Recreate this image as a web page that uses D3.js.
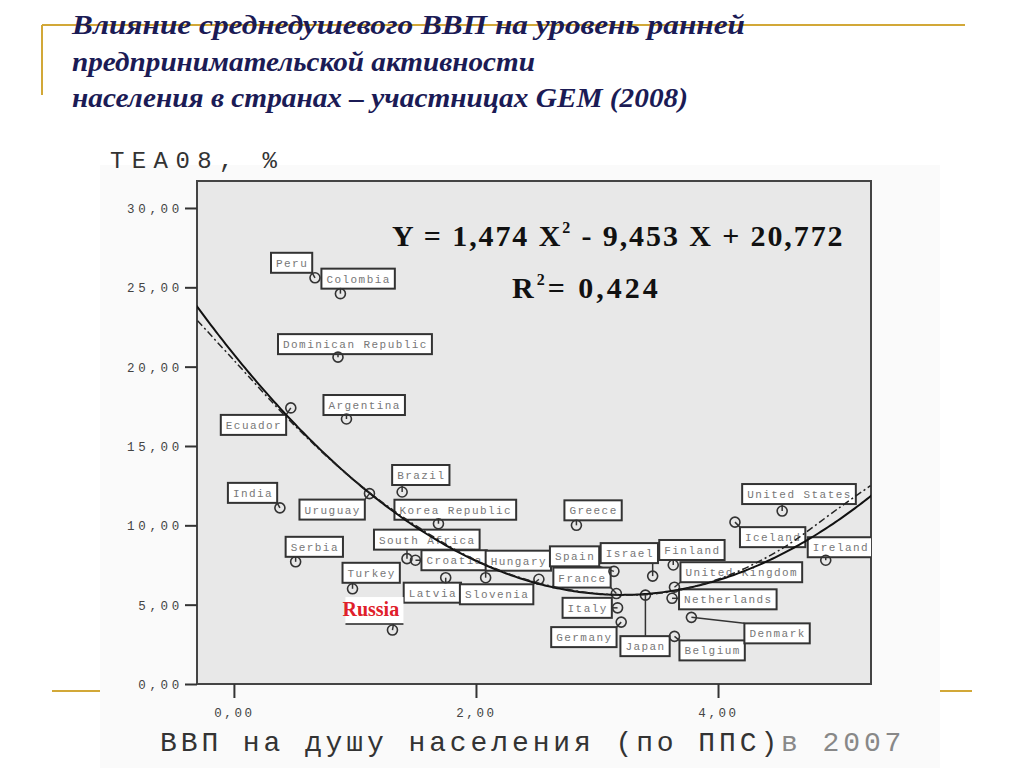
<!DOCTYPE html>
<html><head><meta charset="utf-8">
<script src="https://cdn.jsdelivr.net/npm/d3@7"></script>
<style>body{margin:0;background:#fff}svg{display:block}</style>
</head><body>
<svg id="c" width="1024" height="768"></svg>
<script>
// ---- data ----
const titleLines = ["Влияние среднедушевого ВВП на уровень ранней","предпринимательской активности","населения в странах – участницах GEM (2008)"];
const countries = ["Peru","Colombia","Dominican Republic","Ecuador","Argentina","India","Uruguay","Brazil","Korea Republic","South Africa","Croatia","Hungary","Latvia","Slovenia","Serbia","Turkey","Russia","Greece","Spain","Israel","Finland","United States","Iceland","Ireland","France","United Kingdom","Netherlands","Japan","Italy","Germany","Belgium","Denmark"];
const gdp = [0.67,0.88,0.86,0.47,0.93,0.38,1.12,1.39,1.69,1.43,1.50,2.08,1.75,2.52,0.51,0.98,1.31,2.83,3.14,3.46,3.63,4.53,4.14,4.89,3.16,3.64,3.62,3.40,3.17,3.20,3.64,3.78];
const tea = [25.6,24.6,20.6,17.4,16.7,11.1,12.0,12.1,10.1,7.9,7.8,6.7,6.7,6.6,7.7,6.0,3.4,10.0,7.1,6.8,7.5,10.9,10.2,7.8,5.7,6.1,5.4,5.6,4.8,3.9,3.0,4.2];
const quadCoef = [1.474, -9.453, 20.772]; // Y = a X^2 + b X + c (from the chart)
const altFitX = [-0.3,0,0.5,1,1.5,2,2.5,3,3.5,4,4.5,5,5.26];
const altFitY = [22.9,20.4,16.3,12.8,10.0,7.8,6.4,5.7,5.7,6.6,8.4,11.1,12.5];
const yTicks = [0,5,10,15,20,25,30];
const xTicks = [0,2,4];

// ---- layout ----
const titleWidths = [673, 463, 616];
const labelOffsets = {"Peru":[-44,-25],"Colombia":[-19,-25],"Dominican Republic":[-60,-23],"Ecuador":[-70,7],"Argentina":[-23,-24],"India":[-52,-25],"Uruguay":[-70,6],"Brazil":[-10,-27],"Korea Republic":[-44,-24],"South Africa":[-33,-29],"Croatia":[6,-10],"Hungary":[0,-27],"Latvia":[-42,5],"Slovenia":[-79,5],"Serbia":[-10,-25],"Turkey":[-10,-26],"Russia":[-47,-33],"Greece":[-12,-25],"Spain":[-64,-25],"Israel":[-52,-33],"Finland":[-14,-25],"United States":[-40,-27],"Iceland":[5,5],"Ireland":[-18,-23],"France":[-63,-26],"United Kingdom":[6,-25],"Netherlands":[7,-9],"Japan":[-25,41],"Italy":[-55,-10],"Germany":[-70,5],"Belgium":[5,4],"Denmark":[53,6]};

const svg = d3.select("#c");
const fmt = v => d3.format(".2f")(v).replace(".", ",");
const L = 197, R = 871, T = 181, B = 684;
const x = d3.scaleLinear().domain([-0.305, 5.264]).range([L, R]);
const y = d3.scaleLinear().domain([0, 31.7]).range([B, T]);

// chart image backdrop
svg.append("rect").attr("x",100).attr("y",165).attr("width",840).attr("height",603).attr("fill","#fafafa");

// gold decorations
const gold = "#d2a838";
svg.append("line").attr("x1",42).attr("x2",965).attr("y1",25).attr("y2",25).attr("stroke",gold).attr("stroke-width",2);
svg.append("line").attr("x1",42).attr("x2",42).attr("y1",25).attr("y2",95).attr("stroke",gold).attr("stroke-width",2);
svg.append("line").attr("x1",52).attr("x2",100).attr("y1",691).attr("y2",691).attr("stroke",gold).attr("stroke-width",2);
svg.append("line").attr("x1",940).attr("x2",972).attr("y1",691).attr("y2",691).attr("stroke",gold).attr("stroke-width",2);

// title
svg.append("g").selectAll("text").data(titleLines).join("text")
  .attr("x",72).attr("y",(d,i)=>34+i*36.5)
  .attr("textLength",(d,i)=>titleWidths[i]).attr("lengthAdjust","spacingAndGlyphs")
  .attr("font-family","Liberation Serif").attr("font-style","italic").attr("font-weight","bold")
  .attr("font-size",27).attr("fill","#1b1b55").text(d=>d);

// plot area
svg.append("rect").attr("x",L).attr("y",T).attr("width",R-L).attr("height",B-T).attr("fill","#e8e8e8").attr("stroke","#444").attr("stroke-width",2);

// y axis ticks
const yg = svg.append("g").attr("transform",`translate(${L},0)`)
  .call(d3.axisLeft(y).tickValues(yTicks).tickFormat(fmt).tickSize(12).tickPadding(2));
yg.select(".domain").remove();
yg.selectAll("line").attr("stroke","#333").attr("stroke-width",2);
yg.selectAll("text").attr("font-family","Liberation Mono").attr("font-size",12.5).attr("fill","#444")
  .attr("letter-spacing",3.7).attr("dy","0.35em");

// x axis ticks
const xg = svg.append("g").attr("transform",`translate(0,${B})`)
  .call(d3.axisBottom(x).tickValues(xTicks).tickFormat(fmt).tickSize(14).tickPadding(10));
xg.select(".domain").remove();
xg.selectAll("line").attr("stroke","#333").attr("stroke-width",2);
xg.selectAll("text").attr("font-family","Liberation Mono").attr("font-size",12.5).attr("fill","#444").attr("letter-spacing",2.6);

// axis titles
svg.append("text").attr("x",110).attr("y",168).attr("font-family","Liberation Mono").attr("font-size",24)
  .attr("letter-spacing",7.4).attr("fill","#333").text("TEA08, %");
const xt = svg.append("text").attr("x",160).attr("y",751).attr("font-family","Liberation Mono").attr("font-size",28)
  .attr("letter-spacing",3.9).attr("fill","#333");
xt.append("tspan").text("ВВП на душу населения (по ППС)");
xt.append("tspan").attr("fill","#888").text("в 2007");

// clip
svg.append("clipPath").attr("id","pc").append("rect").attr("x",L).attr("y",T).attr("width",R-L).attr("height",B-T);
const plot = svg.append("g").attr("clip-path","url(#pc)");

const pts = countries.map((c,i)=>({name:c, px:x(gdp[i]), py:y(tea[i])}));

// labels
const lg = plot.append("g");
pts.forEach(p=>{
  const off = labelOffsets[p.name];
  const bx = p.px+off[0], by = p.py+off[1];
  const g = lg.append("g");
  if (p.name === "Russia") {
    const w = 58, h = 27;
    g.append("rect").attr("x",bx).attr("y",by).attr("width",w).attr("height",h).attr("fill","#fff");
    g.append("line").attr("x1",bx).attr("x2",bx+w).attr("y1",by+h).attr("y2",by+h).attr("stroke","#222").attr("stroke-width",1.5);
    g.append("line").attr("x1",bx+w-10).attr("x2",p.px).attr("y1",by+h).attr("y2",p.py).attr("stroke","#333").attr("stroke-width",1.5);
    g.append("text").attr("x",bx-3).attr("y",by+19).attr("font-family","Liberation Serif").attr("font-weight","bold")
      .attr("font-size",20).attr("fill","#e0202a").text(p.name);
    return;
  }
  const t = g.append("text").attr("x",bx+5).attr("y",by+14).attr("font-family","Liberation Mono")
    .attr("font-size",11).attr("letter-spacing",1.45).attr("fill","#777").text(p.name);
  const w = t.node().getComputedTextLength()+9, h = 20;
  const nx = Math.max(bx, Math.min(p.px, bx+w)), ny = Math.max(by, Math.min(p.py, by+h));
  g.insert("line","text").attr("x1",p.px).attr("y1",p.py).attr("x2",nx).attr("y2",ny).attr("stroke","#333").attr("stroke-width",1.5);
  g.insert("rect","text").attr("x",bx).attr("y",by).attr("width",w).attr("height",h).attr("fill","#fff").attr("stroke","#333").attr("stroke-width",2);
});

// points
plot.append("g").selectAll("circle").data(pts).join("circle")
  .attr("cx",d=>d.px).attr("cy",d=>d.py).attr("r",5).attr("fill","none").attr("stroke","#333").attr("stroke-width",1.6);

// fit curves
const xs = d3.range(-0.31, 5.28, 0.02);
const quad = xs.map(v=>[v, quadCoef[0]*v*v + quadCoef[1]*v + quadCoef[2]]);
plot.append("path").datum(quad).attr("fill","none").attr("stroke","#111").attr("stroke-width",2)
  .attr("d", d3.line().x(d=>x(d[0])).y(d=>y(d[1])));
plot.append("path").datum(altFitX.map((v,i)=>[v,altFitY[i]])).attr("fill","none").attr("stroke","#222").attr("stroke-width",1.5)
  .attr("stroke-dasharray","7,3,2,3")
  .attr("d", d3.line().curve(d3.curveCatmullRom).x(d=>x(d[0])).y(d=>y(d[1])));

// equation
const eqFont = t => t.attr("font-family","Liberation Serif").attr("font-weight","bold").attr("fill","#111");
const eq = eqFont(svg.append("text").attr("x",392).attr("y",246).attr("font-size",30).attr("letter-spacing",1.9));
eq.append("tspan").text("Y = 1,474 X");
eq.append("tspan").attr("font-size",16).attr("dy",-13).text("2");
eq.append("tspan").attr("dy",13).text(" - 9,453 X + 20,772");
const r2 = eqFont(svg.append("text").attr("x",512).attr("y",298).attr("font-size",30).attr("letter-spacing",3.0));
r2.append("tspan").text("R");
r2.append("tspan").attr("font-size",16).attr("dy",-13).text("2");
r2.append("tspan").attr("dy",13).text("= 0,424");
</script>
</body></html>
